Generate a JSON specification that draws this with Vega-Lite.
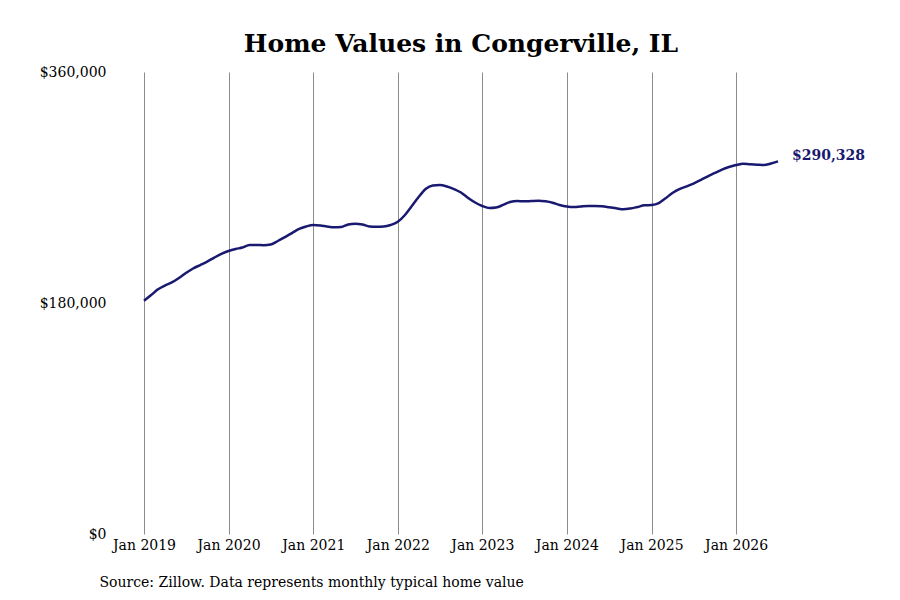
{
  "$schema": "https://vega.github.io/schema/vega-lite/v6.json",
  "width": 634,
  "height": 462,
  "autosize": {"type": "none"},
  "padding": {"left": 144, "top": 72, "right": 122, "bottom": 66},
  "background": "white",
  "title": {
    "text": "Home Values in Congerville, IL",
    "font": "DejaVu Serif",
    "fontSize": 25,
    "fontWeight": "bold",
    "color": "black",
    "anchor": "middle",
    "offset": 8
  },
  "config": {
    "view": {"stroke": null},
    "font": "DejaVu Serif"
  },
  "data": {
    "values": [
      {"date": "2019-01-01", "value": 181800},
      {"date": "2019-02-01", "value": 186200},
      {"date": "2019-03-01", "value": 190500},
      {"date": "2019-04-01", "value": 193600},
      {"date": "2019-05-01", "value": 196000},
      {"date": "2019-06-01", "value": 199500},
      {"date": "2019-07-01", "value": 203400},
      {"date": "2019-08-01", "value": 206900},
      {"date": "2019-09-01", "value": 209600},
      {"date": "2019-10-01", "value": 212300},
      {"date": "2019-11-01", "value": 215400},
      {"date": "2019-12-01", "value": 218200},
      {"date": "2020-01-01", "value": 220500},
      {"date": "2020-02-01", "value": 222100},
      {"date": "2020-03-01", "value": 223200},
      {"date": "2020-04-01", "value": 225200},
      {"date": "2020-05-01", "value": 225200},
      {"date": "2020-06-01", "value": 225000},
      {"date": "2020-07-01", "value": 225600},
      {"date": "2020-08-01", "value": 228300},
      {"date": "2020-09-01", "value": 231400},
      {"date": "2020-10-01", "value": 234500},
      {"date": "2020-11-01", "value": 237700},
      {"date": "2020-12-01", "value": 239600},
      {"date": "2021-01-01", "value": 240800},
      {"date": "2021-02-01", "value": 240400},
      {"date": "2021-03-01", "value": 239600},
      {"date": "2021-04-01", "value": 239000},
      {"date": "2021-05-01", "value": 239200},
      {"date": "2021-06-01", "value": 241200},
      {"date": "2021-07-01", "value": 241800},
      {"date": "2021-08-01", "value": 241200},
      {"date": "2021-09-01", "value": 239600},
      {"date": "2021-10-01", "value": 239400},
      {"date": "2021-11-01", "value": 239600},
      {"date": "2021-12-01", "value": 240800},
      {"date": "2022-01-01", "value": 243300},
      {"date": "2022-02-01", "value": 248600},
      {"date": "2022-03-01", "value": 255200},
      {"date": "2022-04-01", "value": 262600},
      {"date": "2022-05-01", "value": 268800},
      {"date": "2022-06-01", "value": 271600},
      {"date": "2022-07-01", "value": 271900},
      {"date": "2022-08-01", "value": 270800},
      {"date": "2022-09-01", "value": 268800},
      {"date": "2022-10-01", "value": 266100},
      {"date": "2022-11-01", "value": 261800},
      {"date": "2022-12-01", "value": 258300},
      {"date": "2023-01-01", "value": 255600},
      {"date": "2023-02-01", "value": 254000},
      {"date": "2023-03-01", "value": 254400},
      {"date": "2023-04-01", "value": 256400},
      {"date": "2023-05-01", "value": 258700},
      {"date": "2023-06-01", "value": 259500},
      {"date": "2023-07-01", "value": 259200},
      {"date": "2023-08-01", "value": 259500},
      {"date": "2023-09-01", "value": 259700},
      {"date": "2023-10-01", "value": 259200},
      {"date": "2023-11-01", "value": 258100},
      {"date": "2023-12-01", "value": 256400},
      {"date": "2024-01-01", "value": 255200},
      {"date": "2024-02-01", "value": 254800},
      {"date": "2024-03-01", "value": 255200},
      {"date": "2024-04-01", "value": 255600},
      {"date": "2024-05-01", "value": 255600},
      {"date": "2024-06-01", "value": 255300},
      {"date": "2024-07-01", "value": 254600},
      {"date": "2024-08-01", "value": 253800},
      {"date": "2024-09-01", "value": 253000},
      {"date": "2024-10-01", "value": 253600},
      {"date": "2024-11-01", "value": 254800},
      {"date": "2024-12-01", "value": 256100},
      {"date": "2025-01-01", "value": 256400},
      {"date": "2025-02-01", "value": 257900},
      {"date": "2025-03-01", "value": 261400},
      {"date": "2025-04-01", "value": 265700},
      {"date": "2025-05-01", "value": 268800},
      {"date": "2025-06-01", "value": 270900},
      {"date": "2025-07-01", "value": 273100},
      {"date": "2025-08-01", "value": 275800},
      {"date": "2025-09-01", "value": 278700},
      {"date": "2025-10-01", "value": 281300},
      {"date": "2025-11-01", "value": 284000},
      {"date": "2025-12-01", "value": 286000},
      {"date": "2026-01-01", "value": 287500},
      {"date": "2026-02-01", "value": 288500},
      {"date": "2026-03-01", "value": 288100},
      {"date": "2026-04-01", "value": 287800},
      {"date": "2026-05-01", "value": 287500},
      {"date": "2026-06-01", "value": 288700},
      {"date": "2026-07-01", "value": 290328}
    ]
  },
  "encoding": {
    "x": {
      "field": "date",
      "type": "temporal",
      "scale": {
        "type": "utc",
        "domain": [
          {"year": 2019, "month": 1, "date": 1, "utc": true},
          {"year": 2026, "month": 7, "date": 1, "utc": true}
        ]
      },
      "axis": {
        "values": [
          {"year": 2019, "month": 1, "date": 1, "utc": true},
          {"year": 2020, "month": 1, "date": 1, "utc": true},
          {"year": 2021, "month": 1, "date": 1, "utc": true},
          {"year": 2022, "month": 1, "date": 1, "utc": true},
          {"year": 2023, "month": 1, "date": 1, "utc": true},
          {"year": 2024, "month": 1, "date": 1, "utc": true},
          {"year": 2025, "month": 1, "date": 1, "utc": true},
          {"year": 2026, "month": 1, "date": 1, "utc": true}
        ],
        "format": "%b %Y",
        "grid": true,
        "gridColor": "#8c8c8c",
        "gridWidth": 1,
        "gridOpacity": 1,
        "domain": false,
        "ticks": false,
        "labelFlush": false,
        "labelPadding": 4,
        "labelFontSize": 14,
        "labelColor": "black",
        "labelFont": "DejaVu Serif",
        "title": "Source: Zillow. Data represents monthly typical home value",
        "titleFont": "DejaVu Serif",
        "titleFontSize": 14,
        "titleFontWeight": "normal",
        "titleColor": "black",
        "titleAnchor": "start",
        "titleAlign": "left",
        "titleBaseline": "middle",
        "titleX": -45,
        "titleY": 48
      }
    },
    "y": {
      "field": "value",
      "type": "quantitative",
      "scale": {"domain": [0, 360000], "nice": false, "zero": true},
      "axis": {
        "values": [0, 180000, 360000],
        "format": "$,.0f",
        "grid": false,
        "domain": false,
        "ticks": false,
        "labelFlush": false,
        "labelPadding": 38,
        "labelFontSize": 14,
        "labelColor": "black",
        "labelFont": "DejaVu Serif",
        "title": null
      }
    }
  },
  "layer": [
    {
      "mark": {
        "type": "line",
        "color": "#191970",
        "strokeWidth": 2.5,
        "interpolate": "monotone"
      }
    },
    {
      "transform": [{"filter": "datum.value == 290328"}],
      "mark": {
        "type": "text",
        "align": "left",
        "baseline": "middle",
        "dx": 14,
        "dy": -5,
        "fontSize": 14,
        "fontWeight": "bold",
        "font": "DejaVu Serif",
        "color": "#191970"
      },
      "encoding": {
        "text": {"field": "value", "type": "quantitative", "format": "$,.0f"}
      }
    }
  ]
}
